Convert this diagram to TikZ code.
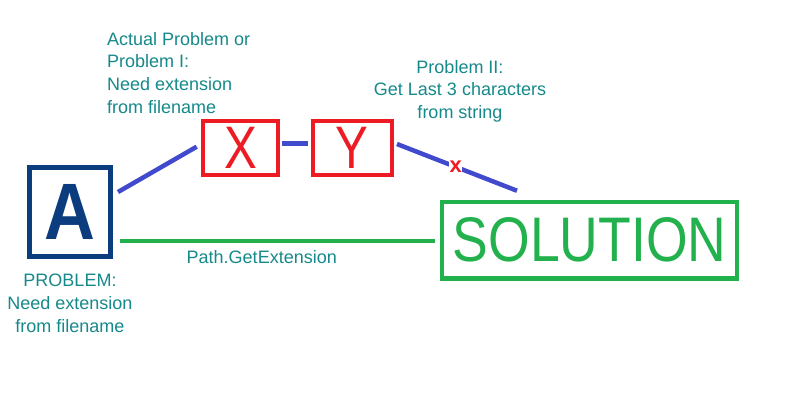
\documentclass[tikz,border=0pt]{standalone}
\usepackage{fontspec}
\setmainfont{Liberation Sans}
\usetikzlibrary{calc}
\definecolor{tealtxt}{HTML}{16898B}
\definecolor{lineblue}{HTML}{4149CC}
\definecolor{boxred}{HTML}{ED1C24}
\definecolor{boxgreen}{HTML}{22B14C}
\definecolor{navy}{HTML}{0B3D7E}
\tikzset{
  box/.style={draw, inner sep=0pt, outer sep=0pt},
  label/.style={text=tealtxt, inner sep=0pt, font=\fontsize{18}{22.7}\selectfont},
  blueline/.style={draw=lineblue, line width=4.5pt},
  greenline/.style={draw=boxgreen, line width=4pt},
}
\begin{document}
\begin{tikzpicture}[x=1pt,y=-1pt]
\path[use as bounding box, fill=white] (0,0) rectangle (800,400);

% boxes
\node[box, draw=navy, line width=5pt, minimum width=81pt, minimum height=89pt,
      text=navy, font=\bfseries\fontsize{80}{80}\selectfont] (A) at (70,212) {\scalebox{0.88}[1]{A}};
\node[box, draw=boxred, line width=4pt, minimum width=75pt, minimum height=54pt,
      text=boxred, font=\fontsize{60}{60}\selectfont] (X) at (240.5,148) {\scalebox{0.82}[1]{X}};
\node[box, draw=boxred, line width=4pt, minimum width=79.3pt, minimum height=54pt,
      text=boxred, font=\fontsize{60}{60}\selectfont] (Y) at (352.3,148) {\scalebox{0.82}[1]{Y}};
\node[box, draw=boxgreen, line width=4.5pt, minimum width=295pt, minimum height=76.5pt,
      text=boxgreen, font=\fontsize{63}{63}\selectfont] (S) at (589.5,240.3) {\scalebox{0.85}[1]{SOLUTION}};

% connectors
\draw[blueline] ($(A.east)+(7.5,-20)$) -- ($(X.west)+(-6.3,-1.3)$);
\draw[blueline] ($(X.east)+(3.7,-4.7)$) -- ($(Y.west)+(-4.7,-4.7)$);
\draw[blueline] ($(Y.east)+(5,-4)$) -- node[pos=0.49, fill=white, inner sep=0.5pt, text=boxred,
      font=\bfseries\fontsize{22}{22}\selectfont] (xmark) {x} ($(S.north)+(-72.5,-11.3)$);
\draw[greenline] ($(A.east)+(9.5,29)$) -- node[pos=0.45, below=7pt, label] (pge) {Path.GetExtension} ($(S.west)+(-7,0.7)$);

% labels
\node[label, anchor=north west, align=left] (l1) at (107,32)
  {Actual Problem or\\Problem I:\\Need extension\\from filename};
\node[label, anchor=north, align=center] (l2) at (70,274)
  {PROBLEM:\\Need extension\\from filename};
\node[label, anchor=north, align=center] (l3) at (460,60)
  {Problem II:\\Get Last 3 characters\\from string};
\end{tikzpicture}
\end{document}
